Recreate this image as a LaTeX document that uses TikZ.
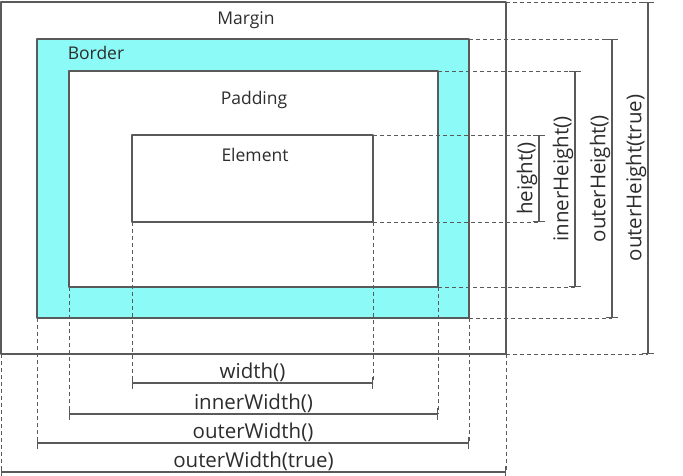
\documentclass[tikz,border=0pt]{standalone}
\usepackage{fontspec}
\setmainfont{Open Sans}
\usetikzlibrary{arrows.meta}
\definecolor{bordercyan}{RGB}{140,250,246}
\definecolor{linegray}{RGB}{90,90,90}
\definecolor{textgray}{RGB}{45,45,45}
\tikzset{
  box/.style={draw=linegray, line width=1.3pt},
  guide/.style={draw=linegray, line width=0.9pt, dash pattern=on 4pt off 3pt},
  dimline/.style={draw=linegray, line width=1.2pt, {Bar[width=12pt]}-{Bar[width=12pt]}},
  dimlabel/.style={midway, above, sloped, inner sep=1pt, text=textgray,
    font=\fontsize{20.5}{23}\selectfont},
  boxlabel/.style={text=textgray, inner sep=0pt, font=\fontsize{17.5}{20}\selectfont},
}
\begin{document}
\begin{tikzpicture}[x=1pt, y=-1pt, line join=round]
  \useasboundingbox (0,0) rectangle (683,476);
  % box corners: margin, border, padding, element
  \coordinate (m1) at (1,2);    \coordinate (m2) at (506,354);
  \coordinate (b1) at (37,39);  \coordinate (b2) at (469,318);
  \coordinate (p1) at (69,71);  \coordinate (p2) at (438,287);
  \coordinate (e1) at (132,135); \coordinate (e2) at (373,222);
  \draw[box] (m1) rectangle (m2);
  \draw[box, fill=bordercyan] (b1) rectangle (b2);
  \draw[box, fill=white] (p1) rectangle (p2);
  \draw[box] (e1) rectangle (e2);
  \node[boxlabel] (margin)  at (246,20)  {Margin};
  \node[boxlabel] (border)  at (96,53)   {Border};
  \node[boxlabel] (padding) at (254,100) {Padding};
  \node[boxlabel] (element) at (255,155) {Element};
  % widths below
  \foreach \a/\b/\y/\t in {e1/e2/383/width(), p1/p2/414/innerWidth(),
      b1/b2/443/outerWidth(), m1/m2/472/outerWidth(true)}{
    \draw[guide] (\a |- \b) -- (\a |- 0,\y);
    \draw[guide] (\b) -- (\b |- 0,\y);
    \draw[dimline] (\a |- 0,\y) -- (\b |- 0,\y) node[dimlabel] {\t};
  }
  % heights on the right
  \foreach \a/\b/\x/\t in {e1/e2/539/height(), p1/p2/575/innerHeight(),
      b1/b2/612/outerHeight(), m1/m2/648/outerHeight(true)}{
    \draw[guide] (\b |- \a) -- (\x,0 |- \a);
    \draw[guide] (\b) -- (\x,0 |- \b);
    \draw[dimline] (\x,0 |- \b) -- (\x,0 |- \a) node[dimlabel] {\t};
  }
\end{tikzpicture}
\end{document}
